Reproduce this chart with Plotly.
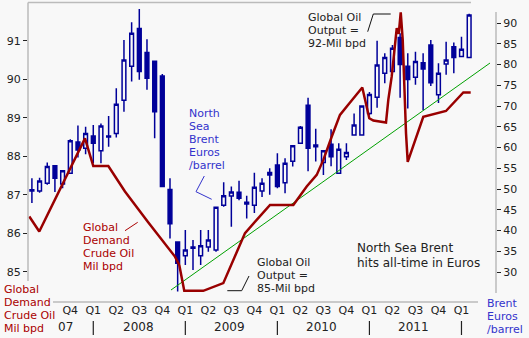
import plotly.graph_objects as go

# ---------------- data ----------------
# month index: 0 = Jan 2007
candle_month = list(range(4, 62))  # May 2007 .. Feb 2012
brent_open = [49.8, 49.5, 51.4, 55.6, 51.2, 53.8, 61.3, 59.8, 62.8, 59.2,
              62.8, 63.4, 71.4, 79.6, 88.7, 82.9, 80.8, 77.2, 49.9, 37.2,
              33.9, 36.0, 33.9, 36.0, 35.3, 46.1, 48.3, 49.2, 46.8, 46.1,
              49.5, 54.0, 55.8, 51.5, 56.7, 61.0, 70.2, 60.6, 56.4, 60.8,
              53.8, 57.8, 63.0, 63.0, 68.2, 72.1, 77.9, 78.3, 86.5, 79.6,
              76.9, 80.4, 84.7, 72.7, 80.1, 84.3, 81.9, 81.7]
brent_high = [52.6, 52.7, 56.4, 55.8, 54.5, 62.0, 65.3, 65.0, 65.4, 65.8,
              67.6, 74.3, 85.9, 90.2, 93.4, 86.1, 80.9, 77.7, 52.6, 37.3,
              40.1, 37.7, 40.1, 40.1, 45.7, 51.6, 50.6, 52.0, 48.4, 53.9,
              52.6, 55.0, 58.6, 57.4, 60.4, 65.2, 72.0, 64.5, 59.2, 64.4,
              61.0, 61.0, 68.2, 70.0, 73.4, 85.7, 82.7, 84.7, 87.5, 82.7,
              83.1, 82.7, 85.9, 80.3, 85.5, 85.3, 86.7, 92.2]
brent_low = [46.6, 49.1, 51.0, 49.3, 50.2, 53.6, 57.6, 58.4, 56.2, 56.2,
             60.2, 62.4, 68.6, 75.9, 76.3, 73.9, 62.2, 50.5, 38.1, 25.3,
             31.7, 30.5, 31.7, 34.9, 34.9, 45.7, 40.9, 47.3, 42.9, 44.2,
             48.1, 48.6, 50.2, 49.0, 55.4, 61.0, 54.3, 56.6, 53.4, 55.5,
             53.8, 57.0, 63.0, 63.0, 67.8, 69.6, 75.5, 78.3, 72.0, 69.4,
             75.1, 69.0, 74.8, 70.7, 77.5, 77.9, 81.9, 81.5]
brent_close = [49.5, 51.9, 55.4, 52.6, 54.4, 61.6, 59.4, 63.4, 61.0, 65.2,
               62.5, 70.4, 81.1, 87.5, 78.3, 76.7, 68.6, 50.6, 41.6, 32.1,
               35.3, 35.7, 36.3, 37.7, 45.6, 48.4, 49.3, 47.8, 46.4, 50.4,
               51.4, 53.4, 50.6, 56.2, 60.4, 64.9, 59.8, 60.2, 59.2, 57.8,
               59.6, 58.8, 65.4, 70.0, 72.8, 79.9, 81.7, 83.9, 80.0, 76.4,
               80.7, 78.9, 75.6, 77.9, 81.1, 81.7, 83.7, 91.9]

demand_month = [3.66, 4.96, 10.92, 12.0, 13.96, 16.13, 19.13, 22.65, 23.21,
                23.86, 26.34, 28.95, 31.78, 35.04, 38.08, 39.82, 41.13, 41.99,
                43.08, 44.16, 45.47, 47.07, 47.98, 48.51, 50.16, 50.46, 50.90,
                51.34, 51.56, 51.82, 52.08, 52.34, 52.51, 52.77, 52.99, 55.02,
                57.98, 60.24, 61.20]
demand_value = [86.44, 86.05, 88.47, 87.75, 87.75, 87.09, 86.30, 85.40, 85.18,
                84.51, 84.51, 84.71, 86.01, 86.74, 86.74, 87.22, 87.52, 87.91,
                88.51, 89.08, 89.40, 89.79, 88.99, 88.93, 88.88, 89.47, 90.07,
                90.94, 91.33, 91.18, 91.74, 91.03, 89.90, 88.60, 87.86, 89.03,
                89.18, 89.66, 89.66]

trend_month = [22.13, 63.72]
trend_value = [25.66, 80.36]

quarter_ticks = list(range(9, 61, 3))
quarter_text = ["Q4", "Q1", "Q2", "Q3", "Q4", "Q1", "Q2", "Q3", "Q4",
                "Q1", "Q2", "Q3", "Q4", "Q1", "Q2", "Q3", "Q4", "Q1"]
year_labels = ["07", "2008", "2009", "2010", "2011"]
year_label_pos = [8.4, 17.85, 29.8, 41.8, 53.8]
year_breaks = [12, 24, 36, 48, 60]

left_ticks = [85, 86, 87, 88, 89, 90, 91]
right_ticks = list(range(30, 95, 5))

# ---------------- styling ----------------
W, H = 529, 338
L, R, T, B = 28, 33, 2, 36
BG = "#f8f8f8"
FONT = "DejaVu Sans"
BLUE = "#000099"
RED = "#990000"
TXT = "#222222"
LBL_BLUE = "#3333cc"
LBL_RED = "#aa0000"
AX = "#bbbbbb"

def px(x):
    return (x - L) / (W - L - R)

def py(y):
    return (H - B - y) / (H - T - B)

fig = go.Figure()

fig.add_trace(go.Candlestick(
    x=candle_month, open=brent_open, high=brent_high, low=brent_low, close=brent_close,
    yaxis="y",
    increasing=dict(line=dict(color=BLUE, width=1.5), fillcolor=BG),
    decreasing=dict(line=dict(color=BLUE, width=1.5), fillcolor=BLUE),
    whiskerwidth=0, showlegend=False, hoverinfo="skip"))

fig.add_trace(go.Scatter(
    x=trend_month, y=trend_value, yaxis="y", mode="lines",
    line=dict(color="#00a000", width=1), showlegend=False, hoverinfo="skip"))

fig.add_trace(go.Scatter(
    x=demand_month, y=demand_value, yaxis="y2", mode="lines",
    line=dict(color=RED, width=2.5), showlegend=False, hoverinfo="skip"))

annotations = []

def txt(s, x, y, color, size=11, anchor="left"):
    annotations.append(dict(text=s, x=px(x), y=py(y), xref="paper", yref="paper",
                            xanchor=anchor, yanchor="middle", showarrow=False,
                            font=dict(family=FONT, size=size, color=color)))

for i, s in enumerate(["Global Oil", "Output =", "92-Mil bpd"]):
    txt(s, 306, 17 + 13 * i, TXT)
for i, s in enumerate(["North", "Sea", "Brent", "Euros", "/barrel"]):
    txt(s, 187, 113 + 13 * i, LBL_BLUE)
for i, s in enumerate(["Global", "Demand", "Crude Oil", "Mil bpd"]):
    txt(s, 81, 227 + 13 * i, LBL_RED)
for i, s in enumerate(["Global", "Demand", "Crude Oil", "Mil bpd"]):
    txt(s, 2, 289 + 13 * i, LBL_RED)
for i, s in enumerate(["Global Oil", "Output =", "85-Mil bpd"]):
    txt(s, 255, 262 + 13 * i, TXT)
for i, s in enumerate(["North Sea Brent", "hits all-time in Euros"]):
    txt(s, 355, 248 + 14.5 * i, TXT, size=12)
for i, s in enumerate(["Brent", "Euros", "/barrel"]):
    txt(s, 485, 303 + 13 * i, LBL_BLUE)

for lab, pos in zip(year_labels, year_label_pos):
    annotations.append(dict(text=lab, x=pos, y=py(327), xref="x", yref="paper",
                            xanchor="center", yanchor="middle", showarrow=False,
                            font=dict(family=FONT, size=12, color=TXT)))

shapes = []

def seg(pts, color, width=1):
    for (x0, y0), (x1, y1) in zip(pts[:-1], pts[1:]):
        shapes.append(dict(type="line", xref="paper", yref="paper",
                           x0=px(x0), y0=py(y0), x1=px(x1), y1=py(y1),
                           line=dict(color=color, width=width)))

# frame / axis lines
seg([(28, 281), (28, 2.5), (471, 2.5)], AX, 1.5)
seg([(496, 12), (496, 293)], AX, 1.5)
seg([(53, 302), (478, 302)], AX, 1.5)
# connectors
seg([(367.7, 31.7), (373.3, 14), (390.7, 14)], "#111111", 1)
seg([(204.3, 176), (196, 191.7), (211.7, 199.3)], LBL_BLUE, 1)
seg([(125, 230.7), (137.7, 222.3)], LBL_RED, 1)
seg([(227.3, 290.7), (241.7, 290.7), (249, 276)], "#111111", 1)

for b in year_breaks:
    shapes.append(dict(type="line", xref="x", yref="paper", x0=b, x1=b,
                       y0=py(321), y1=py(335), line=dict(color=TXT, width=1.2)))

fig.update_layout(
    width=W, height=H, margin=dict(l=L, r=R, t=T, b=B),
    paper_bgcolor=BG, plot_bgcolor=BG,
    showlegend=False, annotations=annotations, shapes=shapes,
    xaxis=dict(range=[3.49, 64.5], tickvals=quarter_ticks, ticktext=quarter_text,
               showgrid=False, zeroline=False, showline=False, ticks="",
               rangeslider=dict(visible=False),
               tickfont=dict(family=FONT, size=11, color=TXT)),
    yaxis=dict(range=[22.77, 95.06], side="right", tickvals=right_ticks,
               ticktext=[str(v) for v in right_ticks],
               showgrid=False, zeroline=False, showline=False,
               ticks="outside", ticklen=4, tickcolor=TXT,
               tickfont=dict(family=FONT, size=11, color=TXT)),
    yaxis2=dict(range=[84.22, 92.01], side="left", overlaying="y",
                tickvals=left_ticks, showgrid=False, zeroline=False, showline=False,
                ticks="outside", ticklen=4, tickcolor=TXT,
                tickfont=dict(family=FONT, size=11, color=TXT)),
)

fig.write_html("out.html")
